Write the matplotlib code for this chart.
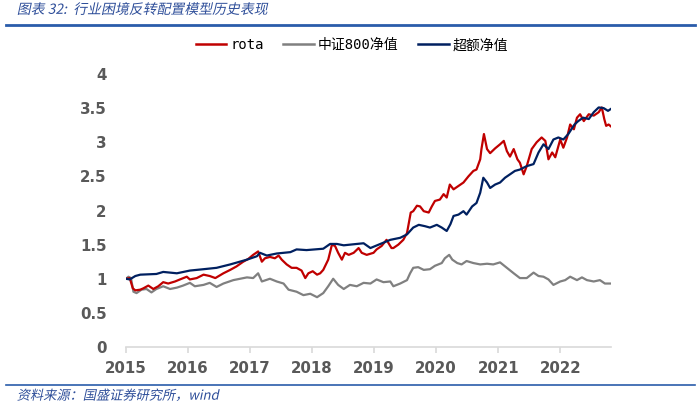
#!/usr/bin/env python3
"""Industry turnaround rotation model: rota vs CSI 800 vs excess NAV."""
import matplotlib
matplotlib.use("Agg")
import matplotlib.pyplot as plt
from matplotlib.lines import Line2D
from matplotlib.patheffects import AbstractPathEffect
from matplotlib.transforms import Affine2D

CJK = ["Noto Sans CJK SC", "DejaVu Sans"]
MONO_CJK = ["DejaVu Sans Mono", "Noto Sans CJK SC"]

# decimal years / values
rota_t = [2015.00, 2015.06, 2015.11, 2015.15, 2015.23, 2015.28, 2015.36, 2015.44, 2015.52,
          2015.60, 2015.68, 2015.79, 2015.87, 2015.98, 2016.03, 2016.14, 2016.25, 2016.35,
          2016.44, 2016.57, 2016.68, 2016.78, 2016.89, 2016.97, 2017.05, 2017.13, 2017.19,
          2017.24, 2017.32, 2017.40, 2017.46, 2017.51, 2017.59, 2017.67, 2017.75, 2017.83,
          2017.89, 2017.94, 2018.01, 2018.08, 2018.13, 2018.18, 2018.26, 2018.32, 2018.37,
          2018.42, 2018.48, 2018.53, 2018.59, 2018.67, 2018.75, 2018.80, 2018.88, 2018.99,
          2019.04, 2019.12, 2019.20, 2019.28, 2019.31, 2019.39, 2019.47, 2019.53, 2019.59,
          2019.63, 2019.69, 2019.74, 2019.80, 2019.88, 2019.93, 2019.98, 2020.06, 2020.12,
          2020.17, 2020.22, 2020.28, 2020.36, 2020.44, 2020.52, 2020.60, 2020.65, 2020.71,
          2020.73, 2020.77, 2020.82, 2020.87, 2020.95, 2021.03, 2021.09, 2021.14, 2021.19,
          2021.25, 2021.31, 2021.35, 2021.41, 2021.46, 2021.54, 2021.62, 2021.70, 2021.76,
          2021.81, 2021.87, 2021.92, 2022.00, 2022.05, 2022.11, 2022.16, 2022.22, 2022.27,
          2022.32, 2022.38, 2022.46, 2022.54, 2022.62, 2022.67, 2022.71, 2022.74, 2022.78,
          2022.82]
rota_v = [1.00, 1.01, 0.86, 0.83, 0.84, 0.86, 0.90, 0.85, 0.89,
          0.95, 0.93, 0.96, 0.99, 1.03, 0.99, 1.01, 1.06, 1.04,
          1.01, 1.08, 1.13, 1.18, 1.25, 1.29, 1.35, 1.40, 1.25,
          1.30, 1.32, 1.30, 1.34, 1.28, 1.21, 1.16, 1.16, 1.12,
          1.01, 1.08, 1.11, 1.06, 1.08, 1.13, 1.28, 1.50, 1.48,
          1.38, 1.28, 1.38, 1.35, 1.38, 1.45, 1.38, 1.35, 1.38,
          1.43, 1.48, 1.57, 1.45, 1.45, 1.50, 1.57, 1.67, 1.97,
          1.99, 2.07, 2.06, 1.99, 1.97, 2.06, 2.14, 2.16, 2.24,
          2.19, 2.38, 2.31, 2.36, 2.41, 2.50, 2.58, 2.60, 2.75,
          2.90, 3.12, 2.90, 2.84, 2.91, 2.97, 3.02, 2.87, 2.79,
          2.90, 2.75, 2.70, 2.53, 2.65, 2.90, 3.00, 3.07, 3.02,
          2.75, 2.85, 2.78, 3.04, 2.92, 3.07, 3.26, 3.19, 3.36,
          3.41, 3.31, 3.41, 3.39, 3.44, 3.51, 3.34, 3.24, 3.26,
          3.23]

csi800_t = [2015.00, 2015.04, 2015.08, 2015.12, 2015.17, 2015.25, 2015.33, 2015.41, 2015.49,
            2015.60, 2015.71, 2015.82, 2015.92, 2016.03, 2016.11, 2016.25, 2016.35, 2016.46,
            2016.57, 2016.73, 2016.84, 2016.95, 2017.05, 2017.13, 2017.19, 2017.32, 2017.43,
            2017.54, 2017.62, 2017.75, 2017.86, 2017.97, 2018.08, 2018.18, 2018.26, 2018.34,
            2018.42, 2018.51, 2018.61, 2018.72, 2018.83, 2018.94, 2019.04, 2019.15, 2019.26,
            2019.31, 2019.42, 2019.53, 2019.58, 2019.63, 2019.71, 2019.80, 2019.90, 2019.98,
            2020.09, 2020.14, 2020.21, 2020.26, 2020.34, 2020.41, 2020.49, 2020.60, 2020.71,
            2020.82, 2020.92, 2021.03, 2021.14, 2021.25, 2021.35, 2021.46, 2021.57, 2021.65,
            2021.73, 2021.81, 2021.89, 2022.00, 2022.08, 2022.16, 2022.27, 2022.35, 2022.43,
            2022.54, 2022.64, 2022.72, 2022.82]
csi800_v = [1.00, 1.03, 1.01, 0.81, 0.79, 0.84, 0.85, 0.80, 0.85,
            0.89, 0.85, 0.87, 0.90, 0.94, 0.89, 0.91, 0.94, 0.88,
            0.93, 0.98, 1.00, 1.02, 1.01, 1.08, 0.96, 1.00, 0.96,
            0.93, 0.84, 0.81, 0.76, 0.78, 0.73, 0.79, 0.89, 1.00,
            0.91, 0.85, 0.91, 0.89, 0.94, 0.93, 0.99, 0.95, 0.96,
            0.89, 0.93, 0.98, 1.08, 1.16, 1.17, 1.13, 1.14, 1.19,
            1.23, 1.30, 1.35, 1.28, 1.23, 1.21, 1.26, 1.23, 1.21,
            1.22, 1.21, 1.24, 1.16, 1.08, 1.01, 1.01, 1.09, 1.04,
            1.03, 0.99, 0.91, 0.96, 0.98, 1.03, 0.98, 1.02, 0.98,
            0.96, 0.98, 0.93, 0.93]

excess_t = [2015.00, 2015.06, 2015.15, 2015.23, 2015.49, 2015.60, 2015.82, 2016.03, 2016.25,
            2016.46, 2016.68, 2016.95, 2017.11, 2017.16, 2017.27, 2017.43, 2017.65, 2017.75,
            2017.91, 2018.18, 2018.29, 2018.40, 2018.51, 2018.72, 2018.83, 2018.94, 2019.10,
            2019.26, 2019.42, 2019.53, 2019.63, 2019.72, 2019.82, 2019.90, 2020.01, 2020.09,
            2020.17, 2020.23, 2020.28, 2020.36, 2020.44, 2020.49, 2020.58, 2020.65, 2020.71,
            2020.76, 2020.82, 2020.87, 2020.95, 2021.03, 2021.11, 2021.19, 2021.27, 2021.35,
            2021.46, 2021.57, 2021.65, 2021.73, 2021.81, 2021.89, 2021.97, 2022.05, 2022.13,
            2022.23, 2022.29, 2022.37, 2022.46, 2022.54, 2022.62, 2022.70, 2022.77, 2022.82]
excess_v = [1.00, 0.99, 1.04, 1.06, 1.07, 1.10, 1.08, 1.12, 1.14,
            1.16, 1.21, 1.28, 1.33, 1.38, 1.34, 1.37, 1.39, 1.43,
            1.42, 1.44, 1.51, 1.51, 1.49, 1.51, 1.52, 1.45, 1.51,
            1.57, 1.60, 1.65, 1.75, 1.79, 1.77, 1.75, 1.79, 1.75,
            1.70, 1.80, 1.92, 1.94, 1.99, 1.94, 2.06, 2.11, 2.26,
            2.48, 2.41, 2.33, 2.38, 2.41, 2.48, 2.53, 2.58, 2.60,
            2.65, 2.68, 2.85, 2.97, 2.90, 3.04, 3.07, 3.04, 3.12,
            3.26, 3.31, 3.36, 3.34, 3.44, 3.51, 3.50, 3.46, 3.49]

years = list(range(2015, 2023))
yticks = [0, 0.5, 1, 1.5, 2, 2.5, 3, 3.5, 4]
ytick_labels = ["0", "0.5", "1", "1.5", "2", "2.5", "3", "3.5", "4"]

RED = "#C00000"
GRAY = "#808080"
NAVY = "#002060"
BLUE_TXT = "#2F4F9A"
TICK_TXT = "#595959"


class Oblique(AbstractPathEffect):
    """Fake italic: shear glyph paths around a baseline (CJK fonts have no italic)."""

    def __init__(self, y0, angle=12):
        super().__init__()
        self._y0 = y0
        self._angle = angle

    def draw_path(self, renderer, gc, tpath, affine, rgbFace=None):
        shear = (Affine2D().translate(0, -self._y0)
                 .skew_deg(self._angle, 0).translate(0, self._y0))
        renderer.draw_path(gc, tpath, affine + shear, rgbFace)


fig = plt.figure(figsize=(7.0, 4.07), dpi=100)
H = fig.get_figheight() * fig.dpi
ax = fig.add_axes([0.18, 0.1474, 0.693, 0.6708])

ax.plot(rota_t, rota_v, color=RED, lw=1.6, label="rota", zorder=3)
ax.plot(csi800_t, csi800_v, color=GRAY, lw=1.6, label="中证800净值", zorder=2)
ax.plot(excess_t, excess_v, color=NAVY, lw=1.6, label="超额净值", zorder=4)

ax.set_xlim(2015, 2022.82)
ax.set_ylim(0, 4)
ax.set_yticks(yticks)
ax.set_yticklabels(ytick_labels)
ax.set_xticks(years)
ax.set_xticklabels([str(y) for y in years])
for side in ("top", "right", "left"):
    ax.spines[side].set_visible(False)
ax.spines["bottom"].set_color("#D9D9D9")
ax.spines["bottom"].set_linewidth(1.2)
ax.tick_params(axis="y", length=0, pad=14)
ax.tick_params(axis="x", length=4, color="#D9D9D9", width=1.2, pad=6)
for lab in ax.get_xticklabels() + ax.get_yticklabels():
    lab.set_fontweight("bold")
    lab.set_fontsize(10.8)
    lab.set_color(TICK_TXT)

handles = [Line2D([], [], color=RED, lw=1.8),
           Line2D([], [], color=GRAY, lw=1.8),
           Line2D([], [], color=NAVY, lw=1.8)]
fig.legend(handles, ["rota", "中证800净值", "超额净值"], loc="center",
           bbox_to_anchor=(0.503, 0.889), ncol=3, frameon=False,
           handlelength=2.2, handletextpad=0.3, columnspacing=1.4,
           prop={"family": MONO_CJK, "size": 10})

# header / footer
fig.text(0.024, 0.966, "图表 32:  行业困境反转配置模型历史表现", family=CJK,
         fontsize=10, color=BLUE_TXT, va="baseline", ha="left",
         path_effects=[Oblique(0.966 * H)])
fig.add_artist(Line2D([0.008, 0.993], [0.938, 0.938], color="#2A5CAA", lw=2.0))
fig.add_artist(Line2D([0.008, 0.993], [0.054, 0.054], color="#2A5CAA", lw=1.2))
fig.text(0.024, 0.018, "资料来源：国盛证券研究所，wind", family=CJK,
         fontsize=9.5, color=BLUE_TXT, va="baseline", ha="left",
         path_effects=[Oblique(0.018 * H)])

fig.savefig("out.png", dpi=100, facecolor="white")
